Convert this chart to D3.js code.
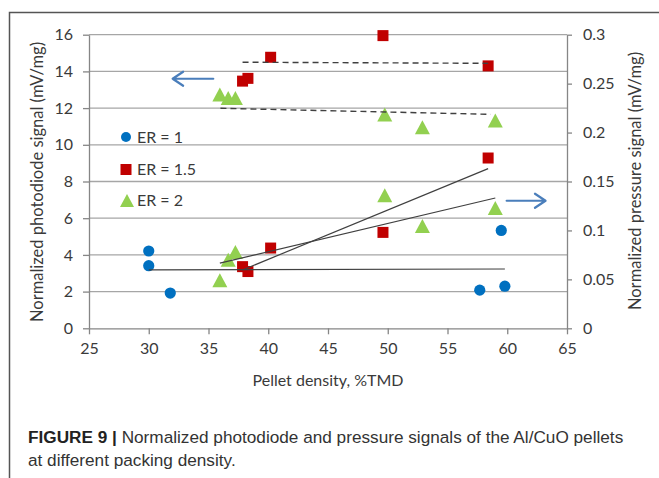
<!DOCTYPE html>
<html>
<head>
<meta charset="utf-8">
<script src="https://cdn.jsdelivr.net/npm/d3@7"></script>
<style>
  html, body { margin: 0; padding: 0; background: #fff; }
  svg { display: block; }
</style>
</head>
<body>
<svg id="chart" width="659" height="478"></svg>
<script>
// ---------- data ----------
const xTicks = [25, 30, 35, 40, 45, 50, 55, 60, 65];
const leftTicks = [0, 2, 4, 6, 8, 10, 12, 14, 16];
const rightTicks = [0, 0.05, 0.1, 0.15, 0.2, 0.25, 0.3];
const rightTickLabels = ["0", "0.05", "0.1", "0.15", "0.2", "0.25", "0.3"];

const legendLabels = ["ER = 1", "ER = 1.5", "ER = 2"];

// ER = 1 (pressure signal, right axis)
const xER1 = [30.0, 30.0, 31.8, 57.7, 59.5, 59.8];
const pressER1 = [0.079, 0.064, 0.036, 0.039, 0.100, 0.043];

// ER = 1.5
const xER15 = [37.85, 38.3, 40.2, 49.6, 58.4];
const photoER15 = [13.47, 13.62, 14.77, 15.95, 14.3];
const pressER15 = [0.063, 0.058, 0.082, 0.098, 0.174];

// ER = 2
const xER2 = [35.95, 36.65, 37.25, 49.75, 52.9, 59.0];
const photoER2 = [12.74, 12.55, 12.55, 11.65, 10.95, 11.33];
const pressER2 = [0.049, 0.070, 0.078, 0.136, 0.1045, 0.123];

// dashed trend lines of the photodiode signal (x0, x1, y0, y1)
const photoTrendER15 = [37.85, 58.4, 14.50, 14.44];
const photoTrendER2 = [36.0, 58.6, 11.99, 11.66];

// axis arrows (x from, x to, y on left axis)
const arrowLeft = [35.4, 32.0, 13.6];
const arrowRight = [59.95, 63.2, 6.95];

const xLabel = "Pellet density, %TMD";
const yLeftLabel = "Normalized photodiode signal (mV/mg)";
const yRightLabel = "Normalized pressure signal (mV/mg)";
const captionBold = "FIGURE 9 |";
const captionLine1 = " Normalized photodiode and pressure signals of the Al/CuO pellets";
const captionLine2 = "at different packing density.";

// ---------- drawing ----------
const svg = d3.select("#chart");
const FONT = "Lato, 'Open Sans', sans-serif";
const C_BLUE = "#0070C0", C_RED = "#C00000", C_GREEN = "#92D050";
const C_AXIS = "#868686", C_GRID = "#A6A6A6", C_TXT = "#3a3a3a", C_TREND = "#404040";
const C_ARROW = "#4A7EBB";

const x = d3.scaleLinear().domain([25, 65]).range([89, 567]);
const yL = d3.scaleLinear().domain([0, 16]).range([328.3, 34.7]);
const yR = d3.scaleLinear().domain([0, 0.3]).range([328.3, 34.7]);

// frame
svg.append("path").attr("d", "M9.5,478 V12.5 H659")
  .attr("fill", "none").attr("stroke", "#555").attr("stroke-width", 1.5);

// gridlines
svg.append("g").selectAll("line").data(leftTicks.filter(d => d > 0)).join("line")
  .attr("x1", x(25)).attr("x2", x(65))
  .attr("y1", d => yL(d)).attr("y2", d => yL(d))
  .attr("stroke", C_GRID).attr("stroke-width", 1.3);

function styleAxis(g) {
  g.select(".domain").attr("stroke", C_AXIS).attr("stroke-width", 1.3);
  g.selectAll(".tick line").attr("stroke", C_AXIS).attr("stroke-width", 1.3);
  g.selectAll(".tick text").attr("fill", C_TXT).attr("font-family", FONT).attr("font-size", 16);
}

const gx = svg.append("g").attr("transform", `translate(0,${yL(0)})`)
  .call(d3.axisBottom(x).tickValues(xTicks).tickSizeInner(6).tickSizeOuter(0).tickPadding(8));
styleAxis(gx);

const gyl = svg.append("g").attr("transform", `translate(${x(25)},0)`)
  .call(d3.axisLeft(yL).tickValues(leftTicks).tickSizeInner(6).tickSizeOuter(0).tickPadding(10));
styleAxis(gyl);

const gyr = svg.append("g").attr("transform", `translate(${x(65)},0)`)
  .call(d3.axisRight(yR).tickValues(rightTicks).tickSizeInner(5).tickSizeOuter(0).tickPadding(11)
    .tickFormat((d, i) => rightTickLabels[i]));
styleAxis(gyr);

// axis titles
svg.append("text").attr("x", x(45)).attr("y", 386).attr("text-anchor", "middle")
  .attr("font-family", FONT).attr("font-size", 16).attr("fill", C_TXT).text(xLabel);
svg.append("text").attr("transform", "translate(43,182) rotate(-90)").attr("text-anchor", "middle")
  .attr("font-family", FONT).attr("font-size", 16.5).attr("fill", C_TXT).text(yLeftLabel);
svg.append("text").attr("transform", "translate(641,181) rotate(-90)").attr("text-anchor", "middle")
  .attr("font-family", FONT).attr("font-size", 16.5).attr("fill", C_TXT).text(yRightLabel);

// markers
const tri = (w, h) => `M0,${-h / 2}L${w / 2},${h / 2}L${-w / 2},${h / 2}Z`;
function circles(xs, ys, ysc) {
  svg.append("g").selectAll("circle").data(xs).join("circle")
    .attr("cx", d => x(d)).attr("cy", (d, i) => ysc(ys[i])).attr("r", 5.6).attr("fill", C_BLUE);
}
function squares(xs, ys, ysc) {
  const s = 11;
  svg.append("g").selectAll("rect").data(xs).join("rect")
    .attr("x", d => x(d) - s / 2).attr("y", (d, i) => ysc(ys[i]) - s / 2)
    .attr("width", s).attr("height", s).attr("fill", C_RED);
}
function triangles(xs, ys, ysc) {
  svg.append("g").selectAll("path").data(xs).join("path")
    .attr("transform", (d, i) => `translate(${x(d)},${ysc(ys[i])})`)
    .attr("d", tri(15, 14)).attr("fill", C_GREEN);
}
circles(xER1, pressER1, yR);
squares(xER15, photoER15, yL);
squares(xER15, pressER15, yR);
triangles(xER2, photoER2, yL);
triangles(xER2, pressER2, yR);

// linear trend lines (least squares) for pressure
function regLine(xs, ys) {
  const n = xs.length, mx = d3.mean(xs), my = d3.mean(ys);
  let sxy = 0, sxx = 0;
  for (let i = 0; i < n; i++) { sxy += (xs[i] - mx) * (ys[i] - my); sxx += (xs[i] - mx) ** 2; }
  const b = sxy / sxx, a = my - b * mx;
  const x0 = d3.min(xs), x1 = d3.max(xs);
  return [x0, x1, a + b * x0, a + b * x1];
}
[[xER1, pressER1], [xER15, pressER15], [xER2, pressER2]].forEach(([xs, ys]) => {
  const [x0, x1, y0, y1] = regLine(xs, ys);
  svg.append("line").attr("x1", x(x0)).attr("x2", x(x1)).attr("y1", yR(y0)).attr("y2", yR(y1))
    .attr("stroke", C_TREND).attr("stroke-width", 1.2);
});
[photoTrendER15, photoTrendER2].forEach(([x0, x1, y0, y1]) => {
  svg.append("line").attr("x1", x(x0)).attr("x2", x(x1)).attr("y1", yL(y0)).attr("y2", yL(y1))
    .attr("stroke", C_TREND).attr("stroke-width", 1.4).attr("stroke-dasharray", "6,4");
});

// arrows
function arrow([xa, xb, yv]) {
  const x0 = x(xa), x1 = x(xb), yy = yL(yv), dir = Math.sign(x1 - x0);
  svg.append("path")
    .attr("d", `M${x0},${yy}H${x1}M${x1 - dir * 10.5},${yy - 7}L${x1},${yy}L${x1 - dir * 10.5},${yy + 7}`)
    .attr("fill", "none").attr("stroke", C_ARROW).attr("stroke-width", 2.2)
    .attr("stroke-linecap", "round").attr("stroke-linejoin", "round");
}
arrow(arrowLeft);
arrow(arrowRight);

// legend
const lg = svg.append("g");
const legY = [137, 169.5, 200.5];
lg.append("circle").attr("cx", 126).attr("cy", legY[0]).attr("r", 5).attr("fill", C_BLUE);
lg.append("rect").attr("x", 120.5).attr("y", legY[1] - 5.5).attr("width", 11).attr("height", 11).attr("fill", C_RED);
lg.append("path").attr("transform", `translate(127,${legY[2]})`).attr("d", tri(14, 13)).attr("fill", C_GREEN);
lg.selectAll("text").data(legendLabels).join("text")
  .attr("x", 137).attr("y", (d, i) => legY[i]).attr("dy", "0.36em")
  .attr("font-family", FONT).attr("font-size", 16).attr("fill", C_TXT).text(d => d);

// caption
const CAP = "'Liberation Sans', Arial, sans-serif";
const t1 = svg.append("text").attr("x", 28).attr("y", 443).attr("font-family", CAP)
  .attr("font-size", 17.2).attr("fill", "#333");
t1.append("tspan").attr("font-weight", "bold").attr("fill", "#222").text(captionBold);
t1.append("tspan").text(captionLine1);
svg.append("text").attr("x", 28).attr("y", 466).attr("font-family", CAP)
  .attr("font-size", 17.2).attr("fill", "#333").text(captionLine2);
</script>
</body>
</html>
